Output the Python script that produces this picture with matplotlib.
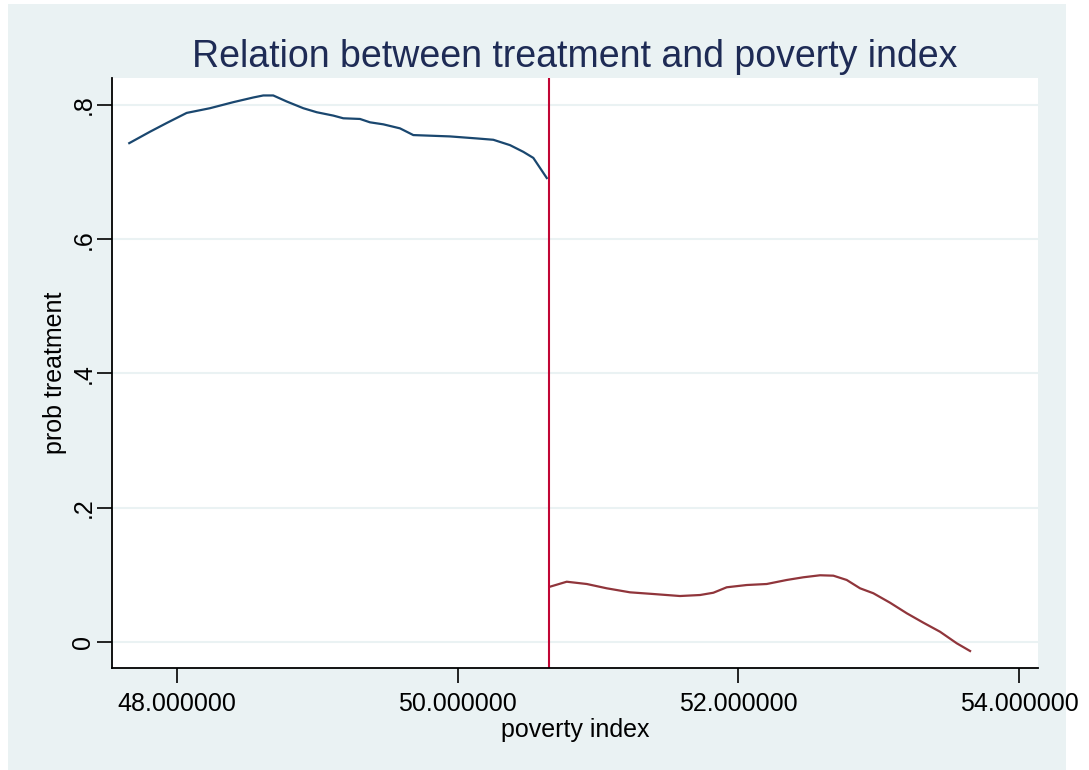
import matplotlib
matplotlib.use("Agg")
import matplotlib.pyplot as plt
from matplotlib.patches import Rectangle

plt.rcParams['font.family'] = ['Liberation Sans', 'DejaVu Sans']

# left of the cutoff (treated side)
x_left = [47.660, 47.808, 47.927, 48.069, 48.235, 48.401, 48.544, 48.615, 48.686,
          48.782, 48.900, 48.996, 49.114, 49.185, 49.304, 49.375, 49.470, 49.589,
          49.684, 49.945, 50.136, 50.254, 50.373, 50.468, 50.539, 50.635]
y_left = [0.743, 0.760, 0.773, 0.788, 0.795, 0.804, 0.811, 0.814, 0.814,
          0.805, 0.795, 0.789, 0.784, 0.780, 0.779, 0.774, 0.771, 0.765,
          0.755, 0.753, 0.750, 0.748, 0.740, 0.730, 0.721, 0.691]

# right of the cutoff
x_right = [50.658, 50.777, 50.920, 51.062, 51.228, 51.394, 51.584, 51.727, 51.822,
           51.917, 52.060, 52.202, 52.345, 52.463, 52.582, 52.677, 52.772, 52.867,
           52.962, 53.081, 53.200, 53.318, 53.437, 53.556, 53.651]
y_right = [0.0824, 0.0898, 0.0864, 0.0800, 0.0740, 0.0715, 0.0685, 0.0700, 0.0734,
           0.0815, 0.0849, 0.0864, 0.0924, 0.0964, 0.0994, 0.0988, 0.0924, 0.0800,
           0.0726, 0.0585, 0.0428, 0.0288, 0.0153, -0.0019, -0.0134]

cutoff = 50.651
xticks = [48, 50, 52, 54]
xtick_labels = ["48.000000", "50.000000", "52.000000", "54.000000"]
yticks = [0, 0.2, 0.4, 0.6, 0.8]
ytick_labels = ["0", ".2", ".4", ".6", ".8"]

bg = "#EAF2F3"
fig = plt.figure(figsize=(10.89, 7.70), dpi=100, facecolor="white")
# stata style light background box
fig.patches.append(Rectangle((8 / 1089, 0), (1066 - 8) / 1089, (770 - 4) / 770,
                             transform=fig.transFigure, facecolor=bg,
                             edgecolor="none", zorder=-10))

ax = fig.add_axes([112 / 1089, (770 - 668) / 770, (1038 - 112) / 1089, (668 - 78) / 770])
ax.set_facecolor("white")

ax.plot(x_left, y_left, color="#1a476f", lw=1.6)
ax.plot(x_right, y_right, color="#90353b", lw=1.6)
ax.axvline(cutoff, color="#c10534", lw=1.5)

ax.set_xlim(47.537, 54.135)
ax.set_ylim(-0.0387, 0.840)

ax.set_xticks(xticks)
ax.set_xticklabels(xtick_labels)
ax.set_yticks(yticks)
ax.set_yticklabels(ytick_labels, rotation=90, va="center")
ax.tick_params(axis="both", length=11, width=1.2, labelsize=18, pad=6, color="black")
ax.tick_params(axis="y", pad=1)
ax.yaxis.grid(True, color=bg, lw=1.5)
ax.set_axisbelow(True)

for s in ["top", "right"]:
    ax.spines[s].set_visible(False)
for s in ["left", "bottom"]:
    ax.spines[s].set_linewidth(1.3)

ax.set_xlabel("poverty index", fontsize=18, labelpad=2)
ax.set_ylabel("prob treatment", fontsize=18, labelpad=3)
ax.set_title("Relation between treatment and poverty index", fontsize=27,
             color="#1e2b55", pad=8)

fig.savefig("out.png", dpi=100, facecolor="white")
